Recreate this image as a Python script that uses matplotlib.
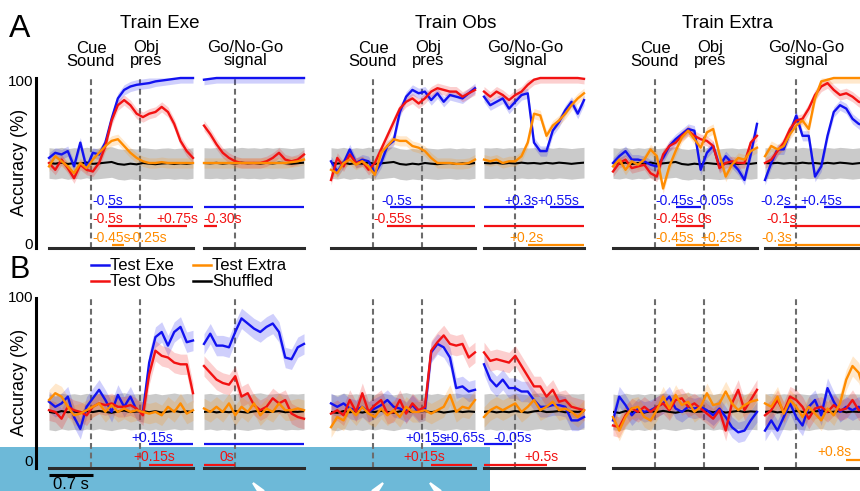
import numpy as np
import matplotlib
matplotlib.use("Agg")
from matplotlib import pyplot as plt
from matplotlib import font_manager, transforms
from matplotlib.lines import Line2D
from matplotlib.patches import Rectangle, Polygon

names = {f.name for f in font_manager.fontManager.ttflist}
FONT = "Liberation Sans Narrow" if "Liberation Sans Narrow" in names else "Liberation Sans"
plt.rcParams["font.family"] = [FONT, "DejaVu Sans"]

# time bins (s): cue/object window is aligned on object presentation, go window on go signal
t_cue = np.round(np.arange(-1.45, 0.86, 0.1), 2)
t_go = np.round(np.arange(-0.5, 1.11, 0.1), 2)
CUE, OBJ, GO = -0.78, 0.0, 0.0

# ---- decoding accuracy (%) : A = context decoding, B = object decoding ----
# Train Exe
a_exe_cue_exe = [53, 56, 55, 57, 48, 62, 47, 56, 55, 62, 76, 88, 93, 95, 96, 96.5, 97, 98, 98.5, 99, 99.5, 100, 100, 100]
a_exe_cue_obs = [50, 46, 52, 47, 41, 49, 46, 45, 50, 60, 75, 84, 87, 84, 79, 77, 79, 80, 83, 80, 73, 63, 57, 53]
a_exe_cue_ext = [48, 54, 51, 48, 44, 50, 47, 52, 56, 60, 63, 64, 60, 56, 53, 51, 50, 50, 50.5, 50, 50, 50, 50, 50]
a_exe_go_exe = [99, 99.5, 100, 100, 100, 100, 100, 100, 100, 100, 100, 100, 100, 100, 100, 100, 100]
a_exe_go_obs = [72, 67, 61, 56, 53, 51, 50, 50, 50, 50, 51, 53, 56, 52, 51, 52, 55]
a_exe_go_ext = [50, 50, 50, 50, 50, 50, 50, 50, 50, 50, 50, 50, 50, 50, 50.5, 51, 52]
# Train Obs
a_obs_cue_exe = [51, 45, 50, 58, 50, 52, 51, 44, 50, 60, 63, 80, 89, 93, 91, 92, 87, 91, 86, 90, 89, 88, 91, 94]
a_obs_cue_obs = [40, 53, 48, 55, 50, 51, 46, 50, 58, 66, 74, 82, 86, 88, 85, 88, 92, 94, 93, 92, 92, 89, 91, 93]
a_obs_cue_ext = [46, 44, 50, 52, 49, 51, 48, 43, 56, 60, 64, 63, 63, 60, 59, 57, 53, 50, 50, 50, 49.5, 49.5, 50, 52]
a_obs_go_exe = [89, 84, 86, 88, 82, 86, 90, 91, 62, 57, 57, 69, 74, 81, 86, 79, 87]
a_obs_go_obs = [92, 89, 92, 90, 87, 90, 92, 96, 99, 100, 100, 100, 100, 100, 100, 100, 99.5]
a_obs_go_ext = [52, 51, 52, 50, 51, 51, 54, 62, 79, 78, 66, 72, 75, 79, 84, 88, 91]
# Train Extra
a_ext_cue_exe = [50, 54, 57, 52, 52, 51, 49, 48, 53, 60, 64, 67, 70, 69, 46, 56, 60, 48, 54, 50, 46, 40, 55, 73]
a_ext_cue_obs = [45, 50, 52, 47, 48, 49, 44, 42, 55, 60, 62, 66, 69, 66, 64, 63, 60, 47, 50, 51, 50, 50, 62, 66]
a_ext_cue_ext = [48, 52, 46, 51, 49, 52, 58, 54, 35, 48, 57, 65, 69, 64, 59, 68, 70, 55, 42, 49, 53, 52, 57, 59]
a_ext_go_exe = [40, 50, 58, 58, 68, 78, 66, 66, 42, 48, 66, 80, 84, 82, 76, 73, 72]
a_ext_go_obs = [50, 52, 57, 62, 70, 75, 76, 82, 90, 95, 97, 93, 90, 91, 89, 86, 85]
a_ext_go_ext = [54, 60, 58, 60, 67, 72, 75, 70, 88, 98, 99, 100, 100, 100, 100, 100, 100]

b_exe_cue_exe = [39, 36, 38, 42, 30, 23, 36, 41, 46, 40, 33, 43, 36, 42, 34, 33, 62, 77, 80, 72, 80, 83, 74, 75]
b_exe_cue_obs = [34, 33, 29, 36, 34, 33, 31, 36, 38, 37, 38, 36, 36, 37, 35, 31, 55, 69, 66, 65, 62, 61, 61, 44]
b_exe_cue_ext = [40, 44, 42, 36, 31, 32, 34, 36, 38, 33, 37, 33, 35, 33, 34, 33, 32, 33, 31, 36, 33, 38, 32, 34]
b_exe_go_exe = [73, 79, 72, 72, 71, 80, 88, 85, 82, 80, 83, 85, 80, 65, 64, 71, 73]
b_exe_go_obs = [60, 56, 52, 50, 49, 54, 42, 44, 37, 34, 36, 41, 38, 40, 32, 30, 29]
b_exe_go_ext = [35, 33, 36, 33, 38, 31, 36, 33, 38, 31, 35, 33, 38, 34, 34, 35, 34]

b_obs_cue_exe = [38, 36, 38, 35, 34, 36, 33, 35, 37, 40, 36, 35, 33, 37, 33, 34, 68, 73, 71, 65, 47, 48, 45, 46]
b_obs_cue_obs = [32, 34, 31, 40, 33, 44, 33, 37, 40, 32, 33, 40, 32, 38, 34, 36, 69, 74, 78, 73, 72, 73, 65, 68]
b_obs_cue_ext = [24, 30, 28, 35, 31, 36, 32, 30, 35, 31, 34, 30, 36, 33, 33, 34, 32, 34, 36, 43, 33, 36, 35, 40]
b_obs_go_exe = [61, 52, 48, 52, 47, 47, 45, 45, 40, 36, 36, 37, 37, 36, 28, 28, 30]
b_obs_go_obs = [68, 63, 64, 63, 62, 66, 60, 54, 48, 48, 42, 46, 39, 40, 36, 35, 34]
b_obs_go_ext = [30, 34, 36, 34, 36, 38, 33, 36, 40, 34, 36, 39, 34, 35, 33, 30, 34]

b_ext_cue_exe = [28, 42, 37, 31, 35, 33, 34, 36, 38, 42, 35, 33, 36, 35, 36, 34, 31, 35, 30, 24, 21, 22, 28, 33]
b_ext_cue_obs = [25, 24, 31, 35, 33, 36, 33, 36, 38, 34, 40, 41, 36, 38, 35, 32, 29, 34, 22, 38, 46, 34, 40, 46]
b_ext_cue_ext = [30, 22, 30, 35, 36, 30, 28, 34, 42, 35, 43, 37, 39, 33, 36, 44, 37, 38, 45, 38, 34, 37, 39, 40]
b_ext_go_exe = [22, 28, 22, 30, 38, 30, 25, 36, 40, 31, 47, 39, 33, 36, 34, 36, 32]
b_ext_go_obs = [31, 34, 40, 33, 42, 40, 36, 29, 35, 36, 33, 37, 34, 35, 40, 34, 35]
b_ext_go_ext = [38, 36, 42, 32, 40, 36, 30, 36, 32, 28, 35, 31, 38, 52, 60, 56, 44]

# shuffled-label control (mean), its spread and the sem of the decoders
shuf_a_cue = [50, 49.6, 50.2, 49.4, 50, 49.6, 50.3, 49.5, 49.8, 50.2, 50.6, 49.4, 49, 49.6, 49.2, 50, 49.6, 49.3, 49.7, 49.9, 49.4, 49.8, 49.5, 50]
shuf_a_go = [50, 49.8, 50.1, 49.6, 50, 49.7, 50.2, 49.8, 50, 49.6, 50.1, 49.7, 50.2, 49.9, 49.5, 49.9, 50.2]
shuf_b_cue = [33, 32.4, 33.5, 32.8, 33.2, 32.6, 33.4, 32.9, 33.6, 33, 32.5, 33.3, 33.8, 32.9, 33.2, 33.5, 32.8, 33.4, 32.6, 33.1, 33.6, 32.9, 33.3, 33]
shuf_b_go = [33, 33.4, 32.7, 33.2, 32.8, 33.5, 33, 32.6, 33.3, 33.7, 32.9, 33.1, 33.5, 32.8, 33.2, 33, 33.4]
shuf_spread = {"A": 9, "B": 10.5}
sem = {"A": 3, "B": 6}

# significant epochs (test set, start s, end s)
sig_a_exe_cue = [("exe", -0.5, 0.85), ("obs", -0.5, 0.75), ("ext", -0.45, -0.25)]
sig_a_exe_go = [("exe", -0.5, 1.1), ("obs", -0.5, -0.3)]
sig_a_obs_cue = [("exe", -0.5, 0.85), ("obs", -0.55, 0.85)]
sig_a_obs_go = [("exe", -0.5, 0.3), ("exe", 0.55, 1.1), ("obs", -0.5, 1.1), ("ext", 0.2, 1.1)]
sig_a_ext_cue = [("exe", -0.45, -0.05), ("obs", -0.45, 0.0), ("ext", -0.45, 0.25)]
sig_a_ext_go = [("exe", -0.2, 0.15), ("exe", 0.45, 1.1), ("obs", -0.1, 1.1), ("ext", -0.3, 1.1)]
sig_b_exe_cue = [("exe", 0.15, 0.85), ("obs", 0.15, 0.85)]
sig_b_exe_go = [("exe", -0.5, 1.1), ("obs", -0.5, 0.0)]
sig_b_obs_cue = [("exe", 0.15, 0.65), ("obs", 0.15, 0.8)]
sig_b_obs_go = [("exe", -0.5, -0.05), ("obs", -0.5, 0.5)]
sig_b_ext_cue = []
sig_b_ext_go = [("ext", 0.8, 1.1)]

# epoch labels (text, left edge in s, test set)
lab_a_exe_cue = [("-0.5s", -0.75, "exe"), ("-0.5s", -0.75, "obs"), ("+0.75s", 0.27, "obs"),
                 ("-0.45s", -0.75, "ext"), ("-0.25s", -0.19, "ext")]
lab_a_exe_go = [("-0.30s", -0.51, "obs")]
lab_a_obs_cue = [("-0.5s", -0.65, "exe"), ("-0.55s", -0.78, "obs")]
lab_a_obs_go = [("+0.3s", -0.18, "exe"), ("+0.55s", 0.35, "exe"), ("+0.2s", -0.1, "ext")]
lab_a_ext_cue = [("-0.45s", -0.78, "exe"), ("-0.05s", -0.13, "exe"), ("-0.45s", -0.78, "obs"),
                 ("0s", -0.1, "obs"), ("-0.45s", -0.77, "ext"), ("+0.25s", -0.05, "ext")]
lab_a_ext_go = [("-0.2s", -0.58, "exe"), ("+0.45s", 0.06, "exe"), ("-0.1s", -0.48, "obs"), ("-0.3s", -0.56, "ext")]
lab_b_exe_cue = [("+0.15s", -0.13, "exe"), ("+0.15s", -0.11, "obs")]
lab_b_exe_go = [("0s", -0.26, "obs")]
lab_b_obs_cue = [("+0.15s", -0.27, "exe"), ("+0.65s", 0.34, "exe"), ("+0.15s", -0.29, "obs")]
lab_b_obs_go = [("-0.05s", -0.35, "exe"), ("+0.5s", 0.14, "obs")]
lab_b_ext_cue = []
lab_b_ext_go = [("+0.8s", 0.34, "ext")]

titles = ["Train Exe", "Train Obs", "Train Extra"]

COL = {"exe": "#1212f0", "obs": "#f21212", "ext": "#ff8c00"}
SIG_Y = {"A": {"exe": 24, "obs": 13, "ext": 1.5}, "B": {"exe": 14, "obs": 2, "ext": 4.5}}
LAB_Y = {"A": {"exe": 25.5, "obs": 14.5, "ext": 3.5}, "B": {"exe": 15.5, "obs": 4, "ext": 7}}

W, H = 860, 491
fig = plt.figure(figsize=(W / 100, H / 100), dpi=100)


def fx(x):
    return x / W


def fy(y):
    return 1 - y / H


ROW_TOP = {"A": 78, "B": 298}
CUE_X0 = [49, 331, 613]
GO_X0 = [204, 484, 765]
TITLE_X = [160, 456, 728]

g = globals()
axes = {}
for row in ("A", "B"):
    for ci, col in enumerate(("exe", "obs", "ext")):
        for win in ("cue", "go"):
            if win == "cue":
                ax = fig.add_axes([fx(CUE_X0[ci]), fy(ROW_TOP[row] + 170), fx(144), 170 / H])
                t, xl, events = t_cue, (-1.45, 0.85), (CUE, OBJ)
            else:
                ax = fig.add_axes([fx(GO_X0[ci]), fy(ROW_TOP[row] + 170), fx(100), 170 / H])
                t, xl, events = t_go, (-0.5, 1.1), (GO,)
            key = f"{row.lower()}_{col}_{win}"
            shuf = np.array(g[f"shuf_{row.lower()}_{win}"])
            sp = shuf_spread[row]
            ax.fill_between(t, shuf - sp, shuf + sp, color="#cacaca", lw=0, zorder=1)
            for ev in events:
                ax.axvline(ev, color="#6c6c6c", lw=1.5, ls=(0, (2.8, 1.8)), zorder=1.5)
            for test in ("exe", "obs", "ext"):
                y = np.array(g[f"{key}_{test}"], float)
                ax.fill_between(t, np.clip(y - sem[row], 0, 100), np.clip(y + sem[row], 0, 100),
                                color=COL[test], alpha=0.2, lw=0, zorder=2)
            ax.plot(t, shuf, color="black", lw=1.5, zorder=3)
            for test in ("exe", "obs", "ext"):
                ax.plot(t, g[f"{key}_{test}"], color=COL[test], lw=1.7, zorder=4, clip_on=False)
            for test, t0, t1 in g[f"sig_{key}"]:
                ax.plot([t0, t1], [SIG_Y[row][test]] * 2, color=COL[test], lw=1.6,
                        solid_capstyle="butt", clip_on=False, zorder=4)
            for s, tx, test in g[f"lab_{key}"]:
                ax.text(tx, LAB_Y[row][test], s, color=COL[test], fontsize=10, ha="left", va="baseline")
            ax.set_xlim(*xl)
            ax.set_ylim(0, 100)
            ax.set_xticks([])
            ax.set_yticks([])
            for sp_name in ("top", "right", "left"):
                ax.spines[sp_name].set_visible(False)
            ax.spines["bottom"].set_linewidth(2.2)
            ax.spines["bottom"].set_color("#2b2b2b")
            ax.patch.set_visible(False)
            axes[(row, col, win)] = ax

# y axis on the first panel of each row
for row, off100, off0 in (("A", 4, 166.5), ("B", 0, 164)):
    ax = axes[(row, "exe", "cue")]
    ax.spines["left"].set_visible(True)
    ax.spines["left"].set_position(("outward", 9.4))
    ax.spines["left"].set_linewidth(2.2)
    ax.spines["left"].set_bounds(0, 100)
    top = ROW_TOP[row]
    fig.text(fx(33), fy(top + off100), "100", fontsize=11, ha="right", va="center")
    fig.text(fx(33), fy(top + off0), "0", fontsize=11, ha="right", va="center")
    fig.text(fx(20), fy(top + 84), "Accuracy (%)", fontsize=13, rotation=90, ha="center", va="center")

# column titles and task events (va="baseline" pins the second line)
for ci, title in enumerate(titles):
    col = ("exe", "obs", "ext")[ci]
    ax_c = axes[("A", col, "cue")]
    ax_g = axes[("A", col, "go")]
    fig.text(fx(TITLE_X[ci]), fy(28), title, fontsize=13.5, ha="center", va="baseline")
    tc = transforms.blended_transform_factory(ax_c.transData, fig.transFigure)
    tg = transforms.blended_transform_factory(ax_g.transData, fig.transFigure)
    ax_c.text(CUE, fy(66.5), "Cue\nSound", transform=tc, fontsize=12, ha="center", va="baseline",
              multialignment="center", linespacing=0.9)
    ax_c.text(OBJ + 0.1, fy(65), "Obj\npres", transform=tc, fontsize=12, ha="center", va="baseline",
              multialignment="center", linespacing=0.85)
    ax_g.text(GO + 0.16, fy(65), "Go/No-Go\nsignal", transform=tg, fontsize=12, ha="center",
              va="baseline", multialignment="center", linespacing=0.85)

fig.text(fx(9), fy(37), "A", fontsize=23, ha="left", va="baseline")
fig.text(fx(9), fy(278), "B", fontsize=22, ha="left", va="baseline")

# legend
for lx, ly, label, c in ((91, 265, "Test Exe", COL["exe"]), (91, 281, "Test Obs", COL["obs"]),
                         (193, 265, "Test Extra", COL["ext"]), (193, 281, "Shuffled", "black")):
    fig.add_artist(Line2D([fx(lx), fx(lx + 18)], [fy(ly), fy(ly)], color=c, lw=1.8))
    fig.text(fx(lx + 19), fy(ly + 5.5), label, fontsize=12, ha="left", va="baseline")

# 0.7 s scale bar under the first B panel
axb = axes[("B", "exe", "cue")]
axb.plot([-1.45, -0.75], [-4.2, -4.2], color="black", lw=2.2, clip_on=False, solid_capstyle="butt")
axb.text(-1.1, -5.5, "0.7 s", fontsize=12, ha="center", va="top")

# page overlay strip at the bottom, with the tips of its arrow buttons
fig.add_artist(Rectangle((0, 0), fx(490), 44 / H, transform=fig.transFigure,
                         facecolor="#6db9d8", edgecolor="none", zorder=-5))
for pts in (((253, 483), (264, 491), (258, 491)),
            ((383, 483), (372, 491), (378, 491)),
            ((430, 483), (441, 491), (435, 491))):
    fig.add_artist(Polygon([(fx(px), fy(py)) for px, py in pts], closed=True, transform=fig.transFigure,
                           facecolor="white", edgecolor="white", lw=1.5, zorder=-4))

fig.savefig("out.png", dpi=100)
